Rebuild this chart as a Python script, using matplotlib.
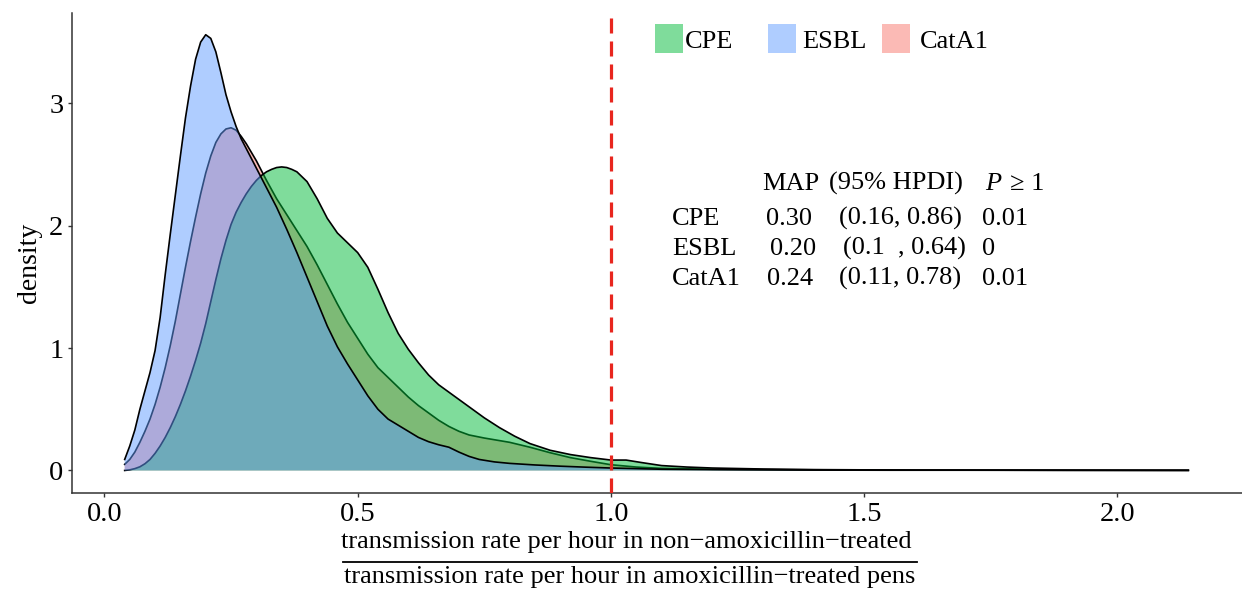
import matplotlib
matplotlib.use('Agg')
import matplotlib.pyplot as plt
from matplotlib.patches import Rectangle
from matplotlib.lines import Line2D

plt.rcParams['font.family'] = ['Liberation Serif', 'DejaVu Serif']

# density curves
esbl_x = [0.04, 0.05, 0.06, 0.07, 0.08, 0.09, 0.10, 0.11, 0.12, 0.13, 0.14, 0.15, 0.16,
          0.17, 0.18, 0.19, 0.20, 0.21, 0.22, 0.23, 0.24, 0.25, 0.26, 0.27, 0.28, 0.29,
          0.30, 0.32, 0.34, 0.36, 0.38, 0.40, 0.42, 0.44, 0.46, 0.48, 0.50, 0.52, 0.54,
          0.56, 0.58, 0.60, 0.62, 0.64, 0.66, 0.68, 0.70, 0.72, 0.74,
          0.77, 0.80, 0.85, 0.90, 0.95, 1.00,
          1.10, 1.20, 1.30, 1.40, 1.55, 1.70, 1.90, 2.14]
esbl_y = [0.09, 0.2, 0.33, 0.5, 0.65, 0.8, 0.98, 1.25, 1.6, 1.93, 2.25, 2.57, 2.88,
          3.14, 3.36, 3.50, 3.56, 3.53, 3.42, 3.25, 3.07, 2.93, 2.81, 2.71, 2.63, 2.55,
          2.47, 2.31, 2.15, 1.97, 1.78, 1.58, 1.38, 1.18, 1.01, 0.87, 0.74, 0.61, 0.50,
          0.42, 0.37, 0.32, 0.27, 0.235, 0.21, 0.19, 0.15, 0.115, 0.09,
          0.07, 0.058, 0.045, 0.035, 0.027, 0.02,
          0.01, 0.007, 0.005, 0.003, 0.002, 0.002, 0.001, 0.001]

cata1_x = [0.04, 0.05, 0.06, 0.07, 0.08, 0.09, 0.10, 0.11, 0.12, 0.13, 0.14, 0.15, 0.16,
           0.17, 0.18, 0.19, 0.20, 0.21, 0.22, 0.23, 0.24, 0.25, 0.26, 0.27, 0.28,
           0.29, 0.30, 0.31, 0.32,
           0.34, 0.36, 0.38, 0.40, 0.42, 0.44, 0.46, 0.48, 0.50, 0.52, 0.54, 0.56,
           0.58, 0.60, 0.62, 0.64, 0.66, 0.68, 0.70, 0.72,
           0.75, 0.80, 0.84, 0.88, 0.92, 0.96, 1.00, 1.05, 1.10, 1.20, 1.35, 1.60,
           1.90, 2.14]
cata1_y = [0.05, 0.09, 0.15, 0.23, 0.32, 0.42, 0.54, 0.68, 0.84, 1.02, 1.22, 1.44, 1.66,
           1.87, 2.07, 2.26, 2.43, 2.57, 2.68, 2.75, 2.79, 2.80, 2.78, 2.73, 2.67,
           2.60, 2.53, 2.45, 2.37,
           2.22, 2.09, 1.96, 1.83, 1.68, 1.52, 1.36, 1.21, 1.08, 0.95, 0.84, 0.76,
           0.68, 0.60, 0.53, 0.47, 0.41, 0.36, 0.32, 0.29,
           0.265, 0.23, 0.19, 0.145, 0.105, 0.075, 0.047, 0.028, 0.017, 0.01, 0.006, 0.003,
           0.002, 0.001]

cpe_x = [0.04, 0.05, 0.06, 0.07, 0.08, 0.09, 0.10, 0.11, 0.12, 0.13, 0.14, 0.15, 0.16,
         0.17, 0.18, 0.19, 0.20, 0.21, 0.22, 0.23, 0.24, 0.25, 0.26, 0.27, 0.28,
         0.29, 0.30, 0.31,
         0.32, 0.33, 0.34, 0.35, 0.36, 0.37, 0.38, 0.40, 0.42, 0.44, 0.46, 0.48, 0.50,
         0.52, 0.54, 0.56, 0.58, 0.60, 0.62, 0.64, 0.66, 0.68, 0.70, 0.72,
         0.75, 0.78, 0.81, 0.84, 0.88, 0.92, 0.96, 1.00, 1.03, 1.06, 1.10, 1.15,
         1.20, 1.30, 1.40, 1.60, 1.90, 2.14]
cpe_y = [0.0, 0.005, 0.015, 0.03, 0.055, 0.09, 0.14, 0.2, 0.27, 0.35, 0.44, 0.54, 0.65,
         0.77, 0.9, 1.04, 1.2, 1.38, 1.56, 1.73, 1.88, 2.01, 2.11, 2.19, 2.26,
         2.32, 2.37, 2.41,
         2.44, 2.46, 2.475, 2.48, 2.475, 2.46, 2.44, 2.36, 2.22, 2.06, 1.94, 1.86, 1.78,
         1.66, 1.48, 1.29, 1.12, 0.99, 0.88, 0.78, 0.70, 0.64, 0.58, 0.52,
         0.43, 0.35, 0.28, 0.22, 0.165, 0.13, 0.105, 0.085, 0.085, 0.065, 0.04, 0.028,
         0.02, 0.012, 0.007, 0.003, 0.002, 0.001]

groups = ['CPE', 'ESBL', 'CatA1']
curves = {'CPE': (cpe_x, cpe_y), 'ESBL': (esbl_x, esbl_y), 'CatA1': (cata1_x, cata1_y)}
colors = {'CPE': '#00BA38', 'ESBL': '#619CFF', 'CatA1': '#F8766D'}
draw_order = ['CatA1', 'CPE', 'ESBL']

# summary table
tab_rows = ['CPE', 'ESBL', 'CatA1']
tab_map = ['0.30', '0.20', '0.24']
tab_hpdi = ['(0.16, 0.86)', '(0.1  , 0.64)', '(0.11, 0.78)']
tab_p = ['0.01', '0', '0.01']

W, H = 1242, 596
fig = plt.figure(figsize=(W / 100, H / 100), dpi=100)
ax = fig.add_axes([71.5 / W, 1 - 492.5 / H, 1 - 71.5 / W, (492.5 - 12.7) / H])

z = 2
for g in draw_order:
    xs, ys = curves[g]
    ax.fill_between(xs, 0, ys, facecolor=colors[g], alpha=0.5, linewidth=0, zorder=z)
    ax.plot(xs, ys, color='black', lw=1.2, zorder=z + 0.5)
    z += 1

ax.axvline(1.0, color='#E8261E', lw=2.3, dashes=(4.7, 2.5), zorder=10)

ax.set_xlim(-0.065, 2.246)
ax.set_ylim(-0.18, 3.74)
ax.set_xticks([0, 0.5, 1.0, 1.5, 2.0])
ax.set_xticklabels(['0.0', '0.5', '1.0', '1.5', '2.0'])
ax.set_yticks([0, 1, 2, 3])
for s in ['top', 'right']:
    ax.spines[s].set_visible(False)
for s in ['left', 'bottom']:
    ax.spines[s].set_linewidth(1.1)
    ax.spines[s].set_color('#333333')
ax.tick_params(length=2.9, width=1, color='#333333', labelsize=20.5, pad=3)
ax.tick_params(axis='x', pad=4)
ax.set_ylabel('density', fontsize=20)
ax.yaxis.set_label_coords(-0.025, 0.478)

# fraction x label
fs_lab = 19
fig.text(626 / W, 1 - 548 / H, 'transmission rate per hour in non\u2212amoxicillin\u2212treated',
         ha='center', va='baseline', fontsize=fs_lab)
fig.add_artist(Line2D([342.6 / W, 917.5 / W], [1 - 561.7 / H, 1 - 561.7 / H],
                      color='black', lw=1.3))
fig.text(630 / W, 1 - 583 / H, 'transmission rate per hour in amoxicillin\u2212treated pens',
         ha='center', va='baseline', fontsize=fs_lab)

# table text
fs = 19
fig.text(762 / W, 1 - 190 / H, 'MAP', fontsize=fs, va='baseline')
fig.text(829 / W, 1 - 190 / H, '(95% HPDI)', fontsize=fs, va='baseline')
fig.text(985 / W, 1 - 190 / H, 'P', fontsize=fs, va='baseline', style='italic')
fig.text(1010 / W, 1 - 190 / H, '\u2265 1', fontsize=fs, va='baseline')
row_base = [225, 255, 285]
map_x = [766, 770, 767]
hpdi_x = [839, 843, 839]
for i in range(3):
    yb = 1 - row_base[i] / H
    fig.text(672 / W, yb, tab_rows[i], fontsize=fs, va='baseline')
    fig.text(map_x[i] / W, yb, tab_map[i], fontsize=fs, va='baseline')
    fig.text(hpdi_x[i] / W, yb, tab_hpdi[i], fontsize=fs, va='baseline')
    fig.text(982 / W, yb, tab_p[i], fontsize=fs, va='baseline')

# legend keys across the top
key_x = [655, 768, 882]
key_text_x = [685, 802, 920]
for i, g in enumerate(groups):
    fig.add_artist(Rectangle((key_x[i] / W, 1 - 53 / H), 28 / W, 29 / H,
                             facecolor=colors[g], alpha=0.5, edgecolor='none'))
    fig.text(key_text_x[i] / W, 1 - 48.3 / H, g, fontsize=fs, va='baseline')

fig.savefig('out.png', dpi=100)
